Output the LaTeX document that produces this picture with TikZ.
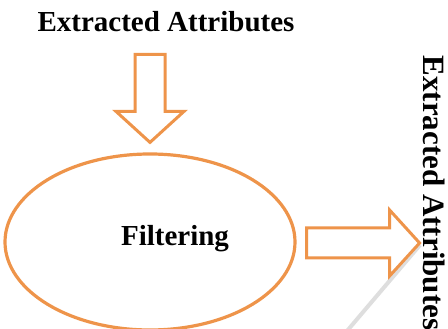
\documentclass[tikz,border=0pt]{standalone}
\usepackage{fontspec}
\setmainfont{Liberation Serif}
\usepackage{tikz}
\usetikzlibrary{positioning,calc,shapes.geometric}
\definecolor{filtorange}{RGB}{238,148,74}

\begin{document}
\begin{tikzpicture}[x=1pt,y=1pt,
    label text/.style={font=\fontsize{29}{31}\selectfont\bfseries, inner sep=0pt},
    hollow arrow/.style={draw=filtorange, line width=3pt, line join=miter, fill=white}]
    \useasboundingbox (0,0) rectangle (448,329);

    % faint watermark stroke
    \draw[black!13, line width=4pt] (347,-2) -- (420,84);

    % Input attributes
    \node[label text] (inattr) at (166,307) {Extracted Attributes};

    % Filtering stage
    \node[ellipse, draw=filtorange, line width=3.2pt, minimum width=290pt, minimum height=176pt,
          inner sep=0pt] (filter) at (150,87) {};
    \node[label text] (filtering) at (175,90) {Filtering};

    % Output attributes
    \node[label text, font=\fontsize{31}{33}\selectfont\bfseries, rotate=-90] (outattr) at (434,136) {Extracted Attributes};

    % Block arrow into the ellipse
    \coordinate (downtip) at ($(filter.north)+(0,10)$);
    \draw[hollow arrow] (downtip) -- ++(-34,31) -- ++(19,0) -- ++(0,57)
        -- ++(30,0) -- ++(0,-57) -- ++(19,0) -- cycle;

    % Block arrow out of the ellipse
    \coordinate (righttip) at ($(filter.east)+(123,-1)$);
    \draw[hollow arrow] (righttip) -- ++(-30,33) -- ++(0,-18) -- ++(-83,0)
        -- ++(0,-30) -- ++(83,0) -- ++(0,-18) -- cycle;
\end{tikzpicture}
\end{document}
